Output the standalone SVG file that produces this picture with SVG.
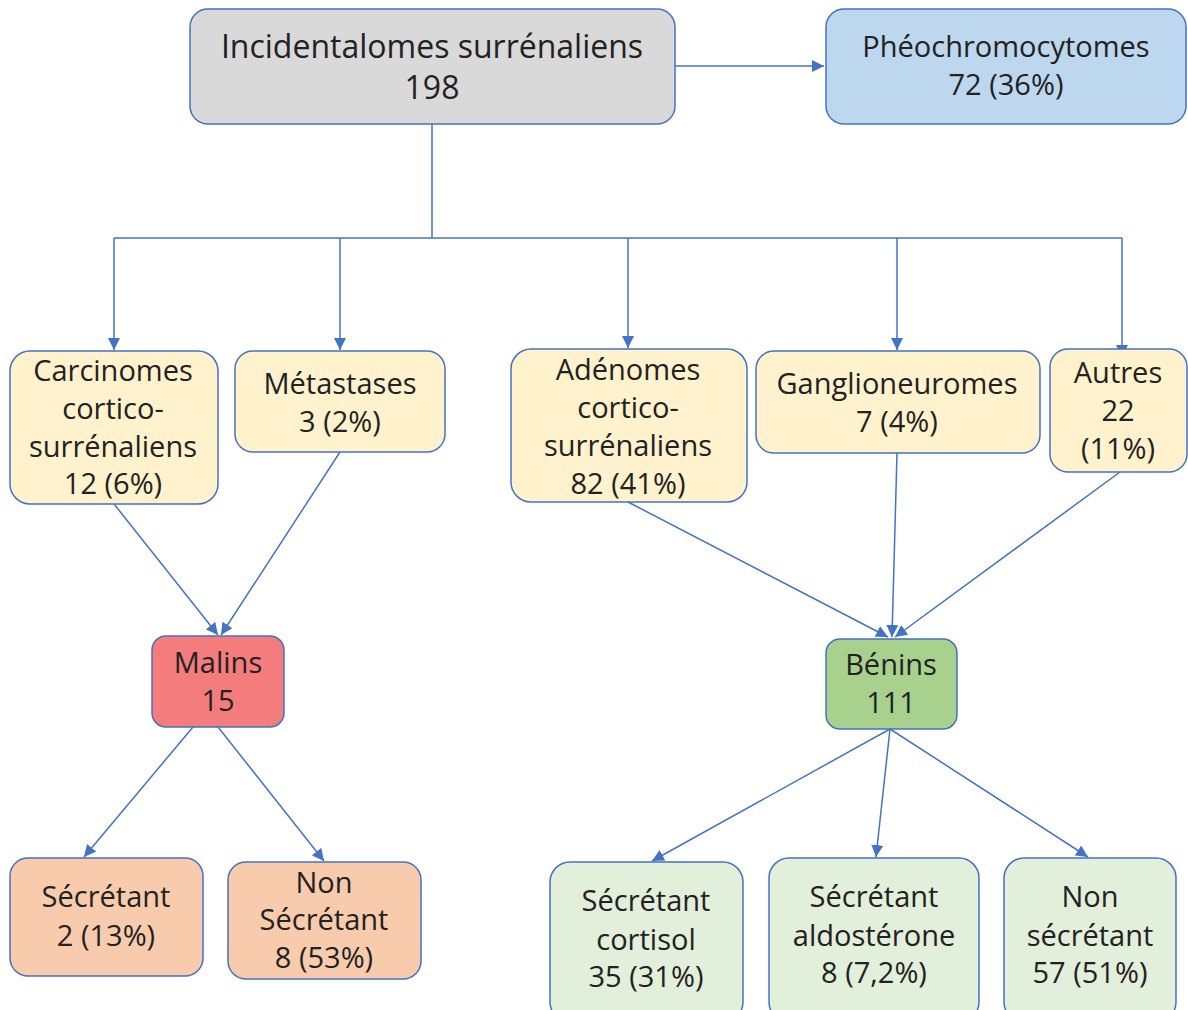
<svg xmlns="http://www.w3.org/2000/svg" width="1188" height="1010" viewBox="0 0 1188 1010">
<defs>
<style>
.n{stroke:#4472C4;stroke-width:1.5}
.t{font-family:"Open Sans","Noto Sans",sans-serif;font-size:29px;fill:#222;text-anchor:middle}
.big{font-size:32px}
.c{fill:none;stroke:#4472C4;stroke-width:1.5}
</style>
<marker id="a" markerUnits="userSpaceOnUse" markerWidth="14" markerHeight="12" refX="12" refY="6" orient="auto">
<path d="M0,0 L12,6 L0,12 Z" fill="#4472C4"/>
</marker>
</defs>
<rect width="1188" height="1010" fill="#fff"/>
<g id="connectors">
<path class="c" d="M675,66 H824" marker-end="url(#a)"/>
<path class="c" d="M432,117 V238"/>
<path class="c" d="M114,238 H1122"/>
<path class="c" d="M114,238 V350" marker-end="url(#a)"/>
<path class="c" d="M340,238 V350" marker-end="url(#a)"/>
<path class="c" d="M628,238 V348" marker-end="url(#a)"/>
<path class="c" d="M897,238 V350" marker-end="url(#a)"/>
<path class="c" d="M1122,238 V357" marker-end="url(#a)"/>
<path class="c" d="M114,504 L218,635" marker-end="url(#a)"/>
<path class="c" d="M340,452 L221,635" marker-end="url(#a)"/>
<path class="c" d="M628,502 L888,637" marker-end="url(#a)"/>
<path class="c" d="M897,453 L892,637" marker-end="url(#a)"/>
<path class="c" d="M1120,472 L895,637" marker-end="url(#a)"/>
<path class="c" d="M193,727 L84,857" marker-end="url(#a)"/>
<path class="c" d="M218,727 L324,861" marker-end="url(#a)"/>
<path class="c" d="M890,729 L652,861" marker-end="url(#a)"/>
<path class="c" d="M890,729 L876,857" marker-end="url(#a)"/>
<path class="c" d="M890,729 L1088,857" marker-end="url(#a)"/>
</g>
<g id="root">
<rect class="n" x="190" y="9" width="485" height="115" rx="18" fill="#D9D9D9"/>
<text class="t big" x="432" y="58">Incidentalomes surrénaliens</text>
<text class="t big" x="432" y="99">198</text>
</g>
<g id="pheo">
<rect class="n" x="826" y="9" width="360" height="115" rx="18" fill="#BDD7EE"/>
<text class="t" x="1006" y="57">Phéochromocytomes</text>
<text class="t" x="1006" y="95">72 (36%)</text>
</g>
<g id="carcinomes">
<rect class="n" x="10" y="351" width="208" height="153" rx="20" fill="#FFF2CC"/>
<text class="t" x="113" y="381">Carcinomes</text>
<text class="t" x="113" y="419">cortico-</text>
<text class="t" x="113" y="457">surrénaliens</text>
<text class="t" x="113" y="494">12 (6%)</text>
</g>
<g id="metastases">
<rect class="n" x="235" y="351" width="210" height="101" rx="18" fill="#FFF2CC"/>
<text class="t" x="340" y="394">Métastases</text>
<text class="t" x="340" y="432">3 (2%)</text>
</g>
<g id="adenomes">
<rect class="n" x="511" y="349" width="236" height="153" rx="20" fill="#FFF2CC"/>
<text class="t" x="628" y="380">Adénomes</text>
<text class="t" x="628" y="418">cortico-</text>
<text class="t" x="628" y="456">surrénaliens</text>
<text class="t" x="628" y="494">82 (41%)</text>
</g>
<g id="ganglio">
<rect class="n" x="756" y="351" width="284" height="102" rx="18" fill="#FFF2CC"/>
<text class="t" x="897" y="394">Ganglioneuromes</text>
<text class="t" x="897" y="432">7 (4%)</text>
</g>
<g id="autres">
<rect class="n" x="1050" y="349" width="137" height="123" rx="18" fill="#FFF2CC"/>
<text class="t" x="1118" y="383">Autres</text>
<text class="t" x="1118" y="421">22</text>
<text class="t" x="1118" y="459">(11%)</text>
</g>
<g id="malins">
<rect class="n" x="152" y="636" width="132" height="91" rx="14" fill="#F47C7C"/>
<text class="t" x="218" y="673">Malins</text>
<text class="t" x="218" y="711">15</text>
</g>
<g id="benins">
<rect class="n" x="826" y="639" width="131" height="90" rx="14" fill="#A9D18E"/>
<text class="t" x="891" y="675">Bénins</text>
<text class="t" x="891" y="713">111</text>
</g>
<g id="mal-sec">
<rect class="n" x="10" y="858" width="193" height="118" rx="18" fill="#F8CBAD"/>
<text class="t" x="106" y="907">Sécrétant</text>
<text class="t" x="106" y="946">2 (13%)</text>
</g>
<g id="mal-nonsec">
<rect class="n" x="228" y="862" width="193" height="117" rx="18" fill="#F8CBAD"/>
<text class="t" x="324" y="893">Non</text>
<text class="t" x="324" y="930">Sécrétant</text>
<text class="t" x="324" y="968">8 (53%)</text>
</g>
<g id="ben-cortisol">
<rect class="n" x="550" y="862" width="193" height="160" rx="20" fill="#E2EFDA"/>
<text class="t" x="646" y="911">Sécrétant</text>
<text class="t" x="646" y="950">cortisol</text>
<text class="t" x="646" y="987">35 (31%)</text>
</g>
<g id="ben-aldo">
<rect class="n" x="769" y="858" width="210" height="164" rx="20" fill="#E2EFDA"/>
<text class="t" x="874" y="907">Sécrétant</text>
<text class="t" x="874" y="946">aldostérone</text>
<text class="t" x="874" y="983">8 (7,2%)</text>
</g>
<g id="ben-nonsec">
<rect class="n" x="1004" y="858" width="172" height="164" rx="20" fill="#E2EFDA"/>
<text class="t" x="1090" y="907">Non</text>
<text class="t" x="1090" y="946">sécrétant</text>
<text class="t" x="1090" y="983">57 (51%)</text>
</g>
</svg>
